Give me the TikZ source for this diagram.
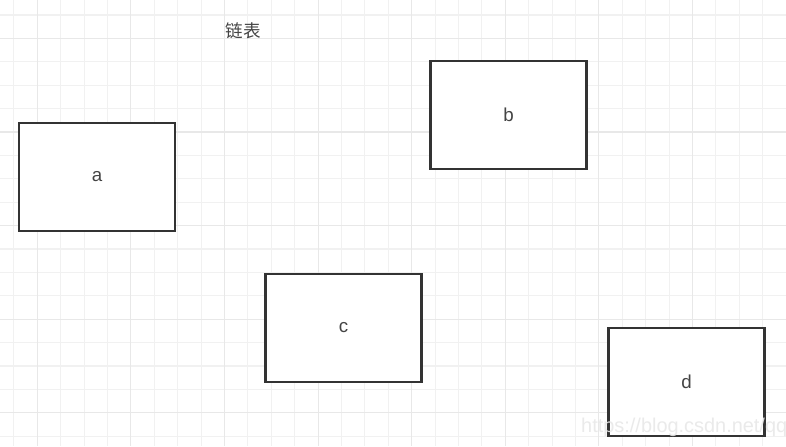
\documentclass[tikz,border=0pt]{standalone}
\usepackage{fontspec}
\setmainfont{Liberation Sans}
\newfontfamily\cjkfont{Noto Sans CJK SC}
\usetikzlibrary{positioning}
\definecolor{gridC}{RGB}{241,241,241}
\definecolor{gridM}{RGB}{232,232,232}
\definecolor{boxC}{RGB}{51,51,51}
\definecolor{textC}{RGB}{68,68,68}
\definecolor{markC}{RGB}{232,232,232}
\tikzset{
  gridmin/.style={draw=gridC, line width=0.9pt},
  gridmaj/.style={draw=gridM, line width=0.9pt},
  listbox/.style={rectangle, draw=boxC, line width=2pt, fill=white,
                  minimum width=4.68cm, minimum height=3.24cm, inner sep=0pt,
                  font=\fontsize{16}{18}\selectfont, text=textC},
}

\begin{document}
\begin{tikzpicture}[x=0.03cm, y=-0.03cm]
        \clip (0,0) rectangle (786,446);
        \fill[white] (0,0) rectangle (786,446);
        \foreach \k in {0,...,33} \draw[gridmin] (13.9+23.4*\k,0) -- (13.9+23.4*\k,446);
        \foreach \k in {0,...,18} \draw[gridmin] (0,15+23.4*\k) -- (786,15+23.4*\k);
        \foreach \k in {1,5,...,33} \draw[gridmaj] (13.9+23.4*\k,0) -- (13.9+23.4*\k,446);
        \foreach \k in {1,5,...,17} \draw[gridmaj] (0,15+23.4*\k) -- (786,15+23.4*\k);
        \node[font=\cjkfont\fontsize{15}{17}\selectfont, text=textC] (title) at (243,31) {链表};
        \node[listbox] (a) at (97,177) {a};
        \node[listbox] (b) at (508.5,115) {b};
        \node[listbox] (c) at (343.5,328) {c};
        \node[listbox] (d) at (686.5,382) {d};
        \node[anchor=base west, inner sep=0pt, text=markC, text opacity=0.9,
              font=\fontsize{17}{19}\selectfont]
          (mark) at (581,432) {https://blog.csdn.net/qq};
      \end{tikzpicture}
\end{document}
